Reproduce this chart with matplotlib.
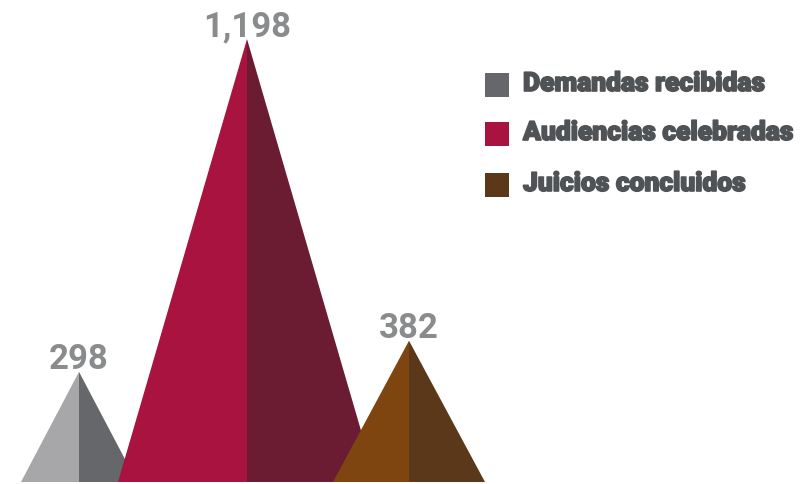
import matplotlib.pyplot as plt
import matplotlib.patheffects as pe
from matplotlib.patches import Polygon, Rectangle

categories = ["Demandas recibidas", "Audiencias celebradas", "Juicios concluidos"]
values = [298, 1198, 382]

light_colors = ["#A7A7A9", "#A8133F", "#7F4510"]
dark_colors = ["#65676B", "#6B1C33", "#5A3819"]
legend_colors = ["#65676B", "#A8133F", "#5A3819"]

# layout (pixels)
centers = [79, 247, 409]
half_widths = [58, 129, 76]

W, H = 801, 485
fig = plt.figure(figsize=(W / 100, H / 100), dpi=100)
ax = fig.add_axes([0, 2 / H, 1, 483 / H])
ax.set_xlim(0, W)
ax.set_ylim(0, 483 / 443 * 1198)
ax.axis("off")

for cx, hw, v, lc, dc in zip(centers, half_widths, values, light_colors, dark_colors):
    ax.add_patch(Polygon([(cx - hw, 0), (cx, v), (cx, 0)], closed=True, facecolor=lc, edgecolor="none"))
    ax.add_patch(Polygon([(cx, 0), (cx, v), (cx + hw, 0)], closed=True, facecolor=dc, edgecolor="none"))
    ax.annotate(f"{v:,}", xy=(cx, v), xytext=(0, 4), textcoords="offset pixels",
                ha="center", va="baseline", fontsize=25, fontweight="bold",
                color="#898B8D", family="Roboto")

# legend
legend_y = [86, 135, 186]
for label, col, yc in zip(categories, legend_colors, legend_y):
    fig.patches.append(Rectangle((485 / W, 1 - (yc + 12) / H), 24 / W, 24 / H,
                                 transform=fig.transFigure, facecolor=col, edgecolor="none"))
    fig.text(523 / W, 1 - (yc - 1) / H, label, ha="left", va="center", fontsize=19,
             fontweight="heavy", color="#505355", family="Roboto",
             path_effects=[pe.withStroke(linewidth=1.2, foreground="#505355")])

fig.savefig("out.png", dpi=100)
